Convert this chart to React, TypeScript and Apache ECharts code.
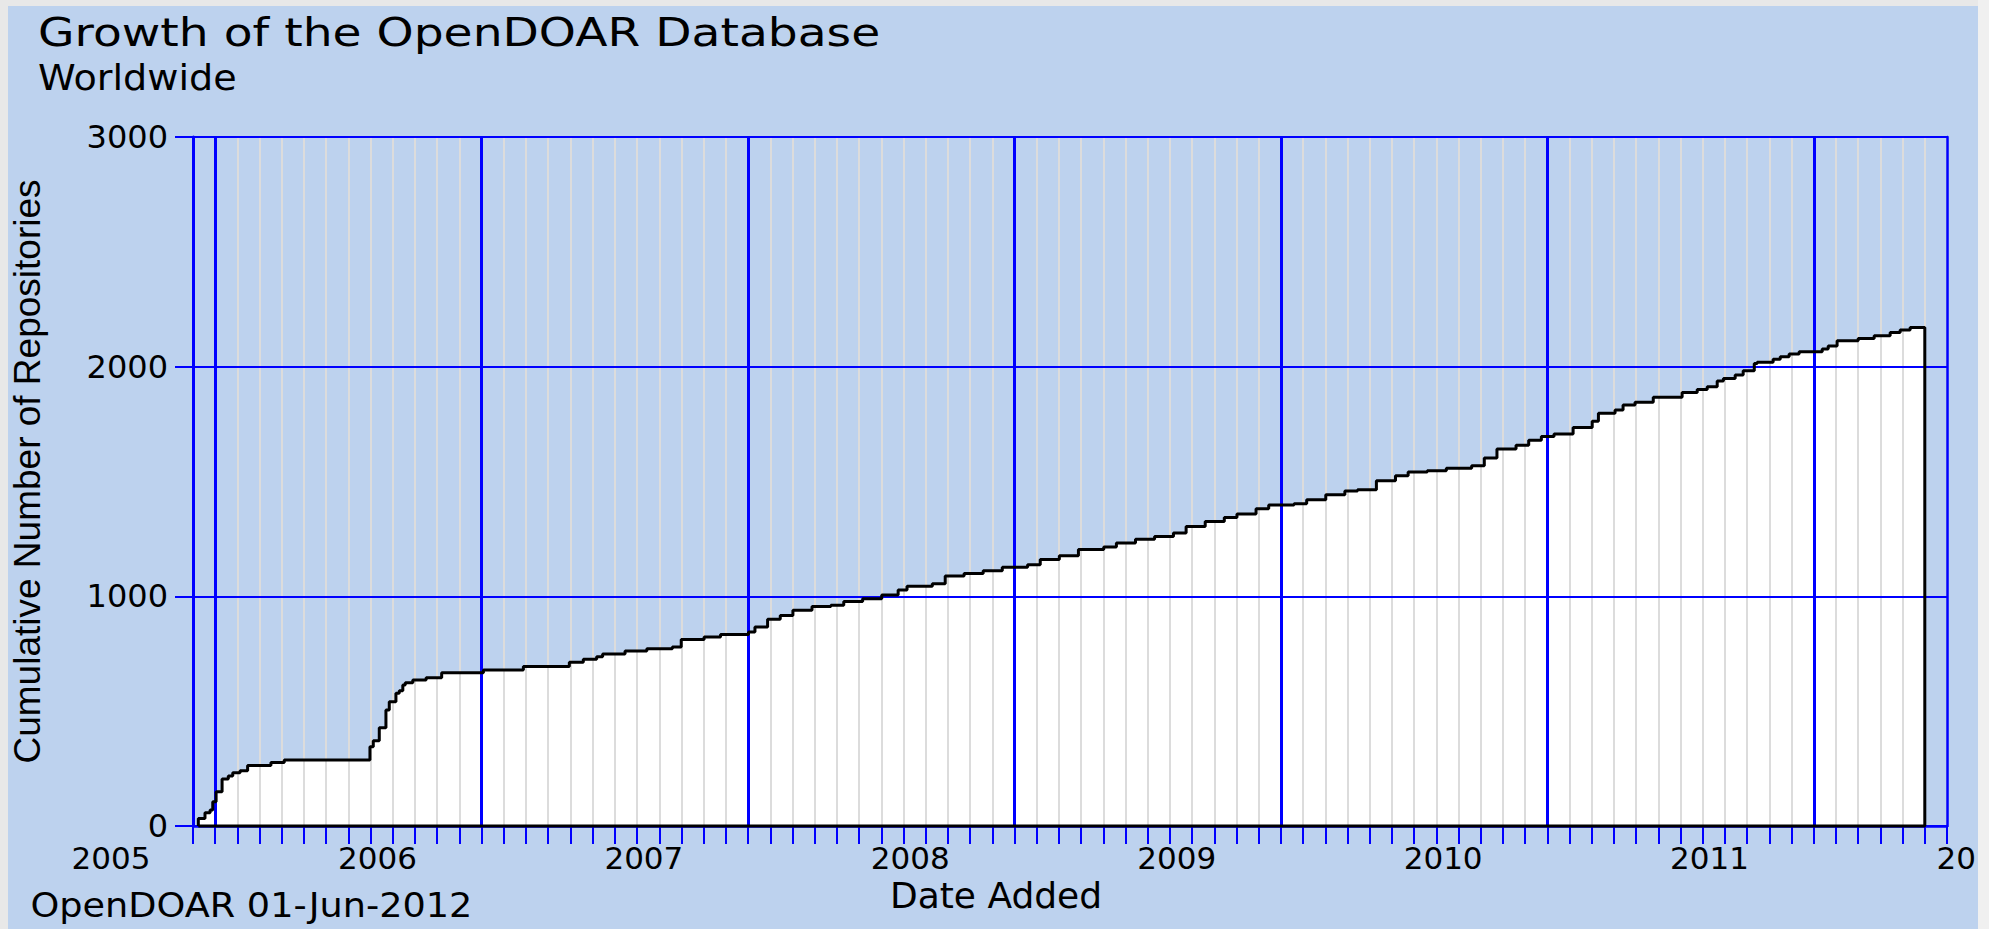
import React, { useEffect, useRef } from "react";
import * as echarts from "echarts";

// x values: months counted from 1 Jan 2005 (0 = Jan 2005, 12 = Jan 2006, ...)
const addedMonth = [
  4.24, 4.54, 4.77, 4.89, 5.04, 5.31, 5.59, 5.79, 6.12, 6.46,
  7.51, 8.11, 11.97, 12.12, 12.39, 12.69, 12.84, 13.14, 13.29, 13.45,
  13.56, 13.9, 14.5, 15.2, 17.08, 18.88, 20.95, 21.58, 22.18, 22.45,
  23.46, 24.44, 25.59, 25.99, 27.02, 27.76, 29.02, 29.31, 29.88, 30.45,
  31.02, 31.88, 32.73, 33.31, 34.16, 35.02, 35.76, 36.16, 37.3, 37.88,
  38.73, 39.59, 40.45, 41.59, 42.16, 43.02, 43.88, 45.02, 45.59, 46.45,
  47.31, 48.16, 48.73, 49.59, 50.45, 51.02, 51.88, 52.45, 53.59, 54.16,
  55.02, 55.88, 56.45, 57.3, 58.16, 58.73, 59.59, 60.45, 61.59, 62.16,
  62.73, 63.59, 64.16, 64.73, 65.3, 66.16, 67.02, 67.3, 68.05, 68.41,
  68.95, 69.77, 71.07, 71.75, 72.2, 72.65, 72.93, 73.46, 73.82, 74.32,
  74.45, 75.17, 75.49, 75.89, 76.34, 77.38, 77.65, 78.05, 79.0, 79.72,
  80.44, 80.89, 81.34, 82,
];

const cumulativeRepositories = [
  33, 58, 70, 106, 149, 205, 218, 232, 241, 263,
  276, 287, 345, 371, 428, 505, 541, 578, 589, 614,
  624, 636, 646, 667, 679, 694, 713, 726, 737, 749,
  762, 772, 779, 812, 823, 834, 845, 867, 900, 917,
  939, 956, 961, 978, 989, 1006, 1028, 1044, 1055, 1088,
  1099, 1111, 1127, 1138, 1160, 1177, 1204, 1215, 1232, 1249,
  1260, 1276, 1304, 1326, 1343, 1359, 1381, 1398, 1403, 1420,
  1442, 1459, 1464, 1503, 1525, 1541, 1547, 1558, 1569, 1602,
  1641, 1658, 1680, 1696, 1707, 1735, 1762, 1797, 1811, 1833,
  1845, 1867, 1888, 1901, 1913, 1938, 1949, 1964, 1982, 2014,
  2019, 2032, 2043, 2055, 2065, 2077, 2090, 2113, 2123, 2135,
  2149, 2160, 2170, 2170,
];

const yearLabels = ["2005", "2006", "2007", "2008", "2009", "2010", "2011", "2012"];
const majorGridMonths = [5, 17, 29, 41, 53, 65, 77];
const yTicks = [0, 1000, 2000, 3000];

const TITLE = "Growth of the OpenDOAR Database";
const SUBTITLE = "Worldwide";
const FOOTER = "OpenDOAR 01-Jun-2012";
const X_NAME = "Date Added";
const Y_NAME = "Cumulative Number of Repositories";

const BLUE = "#0000ff";
const FONT = "DejaVu Sans";

function buildOption() {
  const steps = addedMonth.map((m, i) => [m, cumulativeRepositories[i]]);
  const first = addedMonth[0];
  const last = addedMonth[addedMonth.length - 1];
  const fillData = [[first, 0], ...steps];
  const outlineData = [[first, 0], ...steps, [last, 0], [first, 0]];

  const textStyle = (size: number, align: string) => ({
    fill: "#000",
    fontSize: size,
    fontFamily: FONT,
    lineHeight: Math.round(size * 0.8),
    align,
    textAlign: align,
    verticalAlign: "middle",
    textVerticalAlign: "middle",
  });

  return {
    animation: false,
    backgroundColor: "transparent",
    grid: [
      { left: 185, top: 131, width: 1754, height: 689, containLabel: false, outerBoundsMode: "none" },
      { left: 103, top: 131, width: 1865, height: 689, containLabel: false, outerBoundsMode: "none" },
    ],
    xAxis: [
      {
        type: "value",
        gridIndex: 0,
        min: 4,
        max: 83,
        interval: 1,
        z: 2,
        axisLine: { show: true, onZero: false, lineStyle: { color: BLUE, width: 2.5 } },
        axisTick: { show: true, inside: false, length: 18, lineStyle: { color: BLUE, width: 2 } },
        axisLabel: { show: false },
        splitLine: { show: true, lineStyle: { color: "#dcdcdc", width: 2 } },
      },
      {
        type: "value",
        gridIndex: 0,
        min: 4,
        max: 83,
        position: "top",
        z: 3,
        axisLine: { show: false },
        axisTick: { show: false, customValues: majorGridMonths },
        axisLabel: { show: false },
        splitLine: { show: true, lineStyle: { color: BLUE, width: 3 } },
      },
      {
        type: "value",
        gridIndex: 1,
        min: 0,
        max: 84,
        interval: 12,
        axisLine: { show: false },
        axisTick: { show: false },
        splitLine: { show: false },
        axisLabel: {
          show: true,
          margin: 19,
          color: "#000",
          fontSize: 31,
          lineHeight: 26,
          fontFamily: FONT,
          hideOverlap: false,
          formatter: (v: number) => yearLabels[Math.round(v / 12)] ?? "",
        },
      },
    ],
    yAxis: [
      {
        type: "value",
        gridIndex: 0,
        min: yTicks[0],
        max: yTicks[yTicks.length - 1],
        interval: 1000,
        z: 3,
        axisLine: { show: true, onZero: false, lineStyle: { color: BLUE, width: 3 } },
        axisTick: { show: true, inside: false, length: 18, lineStyle: { color: BLUE, width: 2 } },
        axisLabel: {
          margin: 25,
          color: "#000",
          fontSize: 32,
          fontFamily: FONT,
          formatter: (v: number) => String(v),
        },
        splitLine: { show: true, lineStyle: { color: BLUE, width: 2 } },
        name: Y_NAME,
        nameLocation: "middle",
        nameGap: 147,
        nameTextStyle: {
          color: "#000",
          fontSize: 37,
          fontFamily: "Liberation Sans",
          padding: [0, 0, 0, 20],
        },
      },
      {
        type: "value",
        gridIndex: 0,
        min: 0,
        max: 3000,
        position: "right",
        z: 3,
        axisLine: { show: true, onZero: false, lineStyle: { color: BLUE, width: 2.5 } },
        axisTick: { show: false },
        axisLabel: { show: false },
        splitLine: { show: false },
      },
      { type: "value", gridIndex: 1, min: 0, max: 1, show: false },
    ],
    series: [
      {
        type: "line",
        xAxisIndex: 0,
        yAxisIndex: 0,
        step: "end",
        data: fillData,
        symbol: "none",
        silent: true,
        clip: false,
        z: 1,
        lineStyle: { width: 0, opacity: 0 },
        areaStyle: { color: "#ffffff", opacity: 1 },
      },
      {
        type: "line",
        xAxisIndex: 0,
        yAxisIndex: 0,
        step: "end",
        data: outlineData,
        symbol: "none",
        silent: true,
        clip: false,
        z: 6,
        lineStyle: { color: "#000000", width: 3 },
      },
    ],
    graphic: [
      { type: "text", x: 30, y: 26.5, scaleX: 1.21, style: { text: TITLE, ...textStyle(39, "left") } },
      { type: "text", x: 30, y: 72, scaleX: 1.09, style: { text: SUBTITLE, ...textStyle(35, "left") } },
      { type: "text", x: 22.5, y: 900, scaleX: 1.11, style: { text: FOOTER, ...textStyle(33, "left") } },
      { type: "text", x: 988, y: 889, style: { text: X_NAME, ...textStyle(36, "center") } },
    ],
  };
}

export default function App() {
  const ref = useRef<HTMLDivElement>(null);
  useEffect(() => {
    if (!ref.current) return;
    const chart = echarts.init(ref.current, undefined, { renderer: "svg" });
    chart.setOption(buildOption() as any);
    return () => chart.dispose();
  }, []);
  return (
    <div style={{ position: "fixed", left: 0, top: 0, width: 1989, height: 929, background: "#e8e8e8", overflow: "hidden" }}>
      <div style={{ position: "absolute", left: 1978, top: 0, width: 11, height: 929, background: "#f0f0f0" }} />
      <div style={{ position: "absolute", left: 8, top: 6, width: 1970, height: 923, background: "#bdd2ee" }}>
        <div ref={ref} style={{ position: "absolute", left: 0, top: 0, width: 1967, height: 923, overflow: "hidden" }} />
      </div>
    </div>
  );
}
